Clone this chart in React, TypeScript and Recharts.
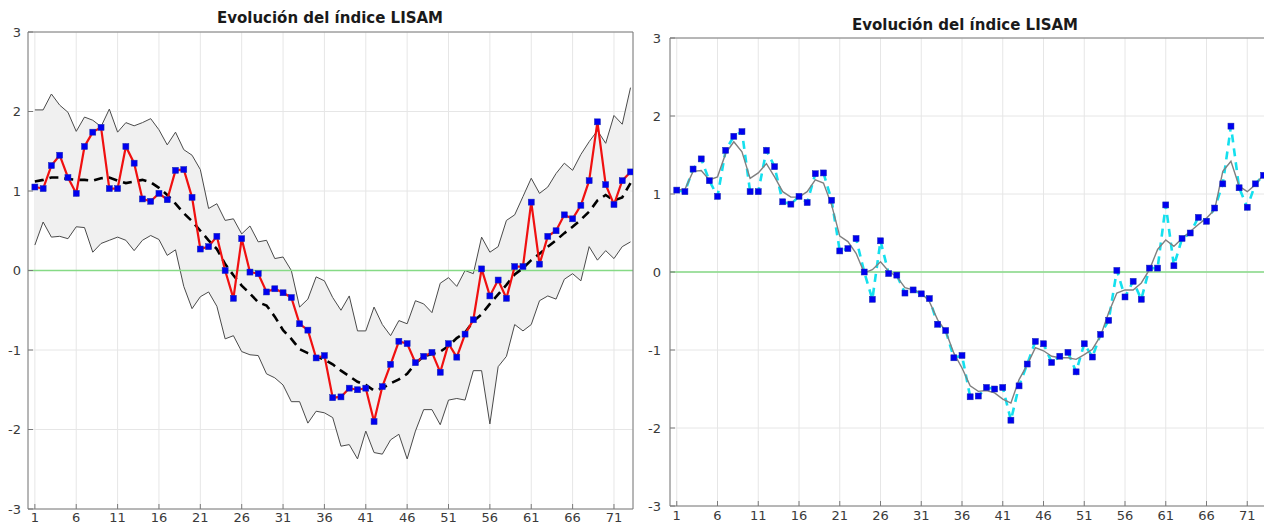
import { ComposedChart, Line, Area, XAxis, YAxis, CartesianGrid, ReferenceLine } from "recharts";

// LISAM index values (t = 1..73)
const lisam = [
  1.05, 1.03, 1.32, 1.45, 1.17, 0.97, 1.56, 1.74, 1.80, 1.03,
  1.03, 1.56, 1.35, 0.90, 0.87, 0.97, 0.89, 1.26, 1.27, 0.92,
  0.27, 0.30, 0.43, 0.00, -0.35, 0.40, -0.02, -0.04, -0.27, -0.23,
  -0.28, -0.34, -0.67, -0.75, -1.10, -1.07, -1.60, -1.59, -1.48, -1.50,
  -1.48, -1.90, -1.46, -1.18, -0.89, -0.92, -1.16, -1.08, -1.03, -1.28,
  -0.92, -1.09, -0.80, -0.62, 0.02, -0.32, -0.12, -0.35, 0.05, 0.05,
  0.86, 0.08, 0.43, 0.50, 0.70, 0.65, 0.82, 1.13, 1.87, 1.08,
  0.83, 1.13, 1.24,
];

const upper = [
  2.02, 2.02, 2.22, 2.08, 1.99, 1.75, 1.93, 1.89, 1.81, 2.03,
  1.74, 1.86, 1.82, 1.86, 1.91, 1.77, 1.58, 1.74, 1.52, 1.45,
  1.27, 0.78, 0.84, 0.63, 0.65, 0.46, 0.56, 0.36, 0.38, 0.15,
  0.17, 0.00, -0.46, -0.36, -0.08, -0.13, -0.34, -0.50, -0.32, -0.76,
  -0.76, -0.46, -0.68, -0.82, -0.63, -0.67, -0.38, -0.42, -0.53, -0.16,
  -0.09, -0.20, 0.00, -0.04, 0.42, 0.23, 0.30, 0.63, 0.70, 0.93,
  1.16, 0.97, 1.05, 1.22, 1.35, 1.26, 1.46, 1.62, 1.76, 1.60,
  1.95, 1.84, 2.30,
];

const lower = [
  0.32, 0.61, 0.42, 0.43, 0.40, 0.55, 0.54, 0.23, 0.34, 0.38,
  0.42, 0.38, 0.25, 0.38, 0.44, 0.39, 0.19, 0.26, -0.20, -0.48,
  -0.33, -0.27, -0.45, -0.86, -0.82, -1.02, -1.06, -1.07, -1.30, -1.35,
  -1.44, -1.65, -1.65, -1.92, -1.77, -1.79, -1.85, -2.21, -2.19, -2.37,
  -2.02, -2.29, -2.31, -2.13, -2.06, -2.37, -2.02, -1.75, -1.75, -1.94,
  -1.63, -1.61, -1.63, -1.26, -1.26, -1.93, -1.21, -1.08, -0.68, -0.76,
  -0.68, -0.38, -0.32, -0.36, -0.11, -0.04, -0.13, 0.30, 0.13, 0.25,
  0.15, 0.30, 0.36,
];

const trend = [
  1.12, 1.14, 1.17, 1.17, 1.15, 1.14, 1.14, 1.13, 1.16, 1.17,
  1.13, 1.10, 1.12, 1.14, 1.11, 1.04, 0.95, 0.84, 0.72, 0.62,
  0.50, 0.38, 0.27, 0.08, -0.06, -0.19, -0.29, -0.40, -0.44, -0.58,
  -0.75, -0.86, -0.99, -1.04, -1.08, -1.12, -1.18, -1.26, -1.33, -1.40,
  -1.44, -1.51, -1.48, -1.42, -1.37, -1.30, -1.17, -1.08, -1.05, -1.02,
  -0.95, -0.85, -0.78, -0.64, -0.55, -0.42, -0.30, -0.18, -0.05, 0.03,
  0.13, 0.21, 0.30, 0.38, 0.47, 0.55, 0.64, 0.74, 0.88, 0.95,
  0.88, 0.92, 1.10,
];

const smooth = [
  1.05, 1.06, 1.29, 1.30, 1.18, 1.22, 1.52, 1.67, 1.54, 1.20,
  1.27, 1.39, 1.22, 1.03, 0.96, 0.96, 1.03, 1.18, 1.14, 0.86,
  0.46, 0.39, 0.24, -0.01, 0.03, 0.13, 0.01, -0.06, -0.20, -0.23,
  -0.27, -0.38, -0.61, -0.76, -1.04, -1.23, -1.46, -1.53, -1.52, -1.55,
  -1.63, -1.68, -1.38, -1.19, -0.97, -1.01, -1.08, -1.10, -1.10, -1.12,
  -1.06, -0.99, -0.82, -0.52, -0.27, -0.23, -0.23, -0.14, 0.03, 0.29,
  0.41, 0.33, 0.43, 0.52, 0.61, 0.69, 0.80, 1.29, 1.42, 1.10,
  1.03, 1.12, 1.25,
];

const xTicks = [1, 6, 11, 16, 21, 26, 31, 36, 41, 46, 51, 56, 61, 66, 71];
const yTicks = [-3, -2, -1, 0, 1, 2, 3];
const title = "Evolución del índice LISAM";

const rows = lisam.map((v, i) => ({
  t: i + 1,
  v,
  up: upper[i],
  lo: lower[i],
  band: [lower[i], upper[i]],
  trend: trend[i],
  smooth: smooth[i],
}));

const FONT = "DejaVu Sans, sans-serif";
const FRAME = "#7a7a7a";
const tickStyle = { fontSize: 13, fill: "#3a3a3a", fontFamily: FONT };

const Square = (props: any) => {
  const { cx, cy, index } = props;
  if (cx == null || cy == null) return <g key={index} />;
  return (
    <rect key={index} x={cx - 3} y={cy - 3} width={6} height={6} fill="#0000f0" stroke="#1a2ab0" strokeWidth={0.5} />
  );
};

function Axes({ yWidth, xHeight, yMargin, xMargin }: { yWidth: number; xHeight: number; yMargin: number; xMargin: number }) {
  return [
    <XAxis
      key="xb"
      dataKey="t"
      type="number"
      domain={[0.17, 73.3]}
      ticks={xTicks}
      interval={0}
      height={xHeight}
      tickSize={-5}
      tickMargin={xMargin}
      stroke={FRAME}
      tick={tickStyle}
      allowDataOverflow
    />,
    <XAxis
      key="xt"
      xAxisId="top"
      orientation="top"
      type="number"
      domain={[0.17, 73.3]}
      ticks={xTicks}
      interval={0}
      height={1}
      tickSize={-5}
      tick={false}
      stroke={FRAME}
    />,
    <YAxis
      key="yl"
      type="number"
      domain={[-3, 3]}
      ticks={yTicks}
      interval={0}
      width={yWidth}
      tickSize={-5}
      tickMargin={yMargin}
      stroke={FRAME}
      tick={tickStyle}
    />,
    <YAxis
      key="yr"
      yAxisId="r"
      orientation="right"
      type="number"
      domain={[-3, 3]}
      ticks={yTicks}
      interval={0}
      width={1}
      tickSize={-5}
      tick={false}
      stroke={FRAME}
    />,
  ];
}

function LeftPanel() {
  return (
    <ComposedChart width={640} height={526} data={rows} margin={{ top: 31, right: 6, bottom: 0, left: 0 }}>
      <CartesianGrid stroke="#e6e6e6" />
      {Axes({ yWidth: 28, xHeight: 17, yMargin: 12, xMargin: 9 })}
      <Area dataKey="band" fill="#f0f0f0" fillOpacity={1} stroke="none" isAnimationActive={false} />
      <Line dataKey="up" stroke="#4a4a4a" strokeWidth={1} dot={false} activeDot={false} isAnimationActive={false} />
      <Line dataKey="lo" stroke="#4a4a4a" strokeWidth={1} dot={false} activeDot={false} isAnimationActive={false} />
      <ReferenceLine y={0} stroke="#86da86" strokeWidth={1.6} />
      <Line dataKey="trend" stroke="#000000" strokeWidth={2.6} strokeDasharray="9 6" dot={false} activeDot={false} isAnimationActive={false} />
      <Line dataKey="v" stroke="#f01010" strokeWidth={2.2} dot={Square} activeDot={false} isAnimationActive={false} />
    </ComposedChart>
  );
}

function RightPanel() {
  return (
    <ComposedChart width={640} height={526} data={rows} margin={{ top: 37, right: 13, bottom: 0, left: 0 }}>
      <CartesianGrid stroke="#e6e6e6" />
      {Axes({ yWidth: 30, xHeight: 20, yMargin: 14, xMargin: 10 })}
      <ReferenceLine y={0} stroke="#86da86" strokeWidth={1.6} />
      <Line dataKey="v" stroke="#14e0ee" strokeWidth={2.6} strokeDasharray="8 6" dot={false} activeDot={false} isAnimationActive={false} />
      <Line dataKey="smooth" stroke="#808080" strokeWidth={1.4} dot={false} activeDot={false} isAnimationActive={false} />
      <Line dataKey="v" stroke="none" dot={Square} activeDot={false} isAnimationActive={false} />
    </ComposedChart>
  );
}

const titleStyle = {
  position: "absolute" as const,
  width: 400,
  textAlign: "center" as const,
  fontFamily: FONT,
  fontWeight: 700,
  fontSize: 15,
  color: "#1a1a1a",
  lineHeight: "18px",
};

export default function App() {
  return (
    <div style={{ position: "absolute", left: 0, top: 0, width: 1264, height: 526, overflow: "hidden", background: "#fff" }}>
      <div style={{ position: "absolute", left: 0, top: 0 }}>
        <LeftPanel />
      </div>
      <div style={{ position: "absolute", left: 640, top: 0 }}>
        <RightPanel />
      </div>
      <div style={{ ...titleStyle, left: 130, top: 9 }}>{title}</div>
      <div style={{ ...titleStyle, left: 765, top: 16 }}>{title}</div>
    </div>
  );
}
